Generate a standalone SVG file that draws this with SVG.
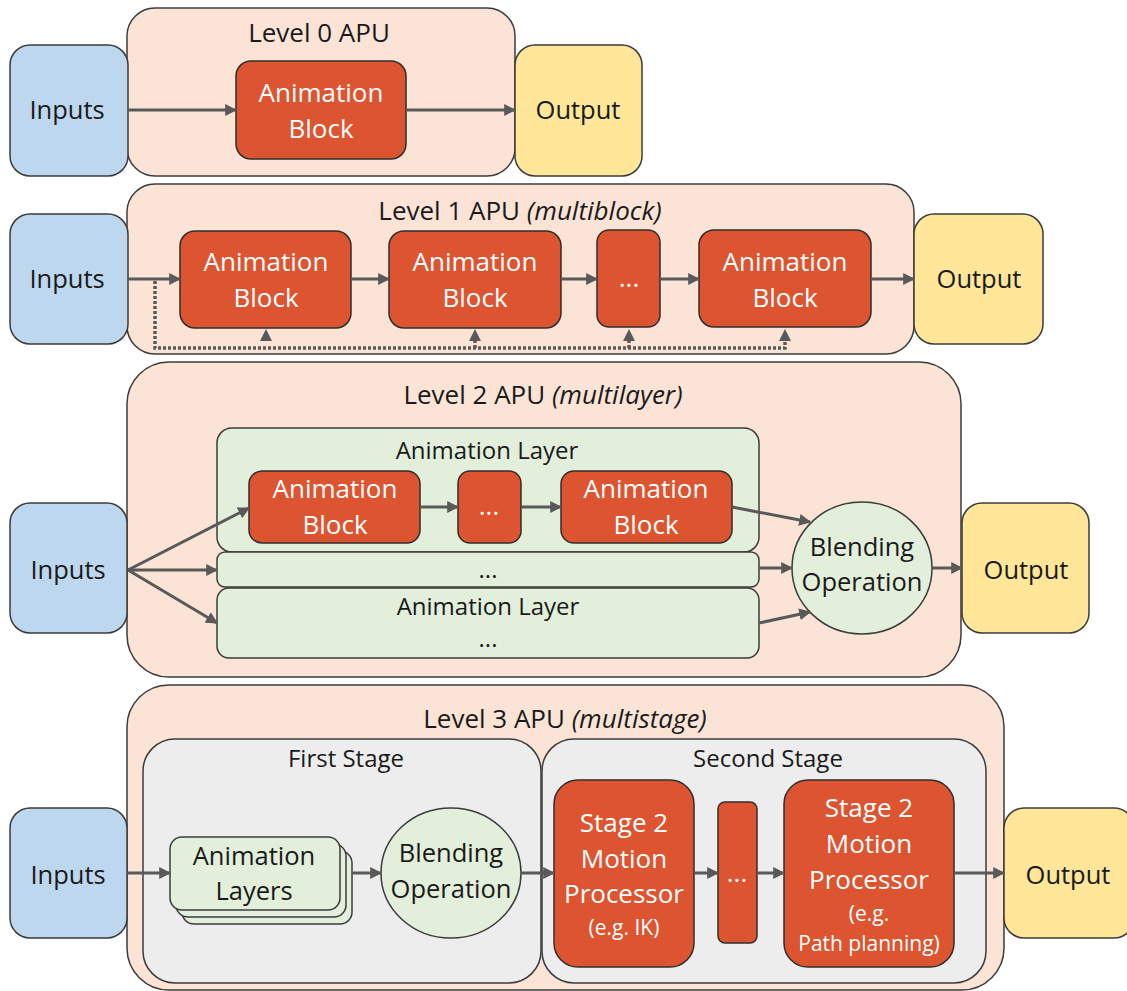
<svg xmlns="http://www.w3.org/2000/svg" width="1127" height="991" viewBox="0 0 1127 991">
<defs>
<style>
text{font-family:"Open Sans","Noto Sans",sans-serif;text-anchor:middle;}
.t{font-size:25.5px;fill:#1a1a1a;}
.w{font-size:26px;fill:#ffffff;}
.ws{font-size:21px;fill:#ffffff;}
.h{font-size:26px;fill:#1a1a1a;}
.s{font-size:24px;fill:#1a1a1a;}
.cont{fill:#FBE4D6;stroke:#3b3b3b;stroke-width:1.5;}
.in{fill:#BDD7EE;stroke:#3b3b3b;stroke-width:1.5;}
.out{fill:#FFE699;stroke:#3b3b3b;stroke-width:1.5;}
.blk{fill:#DD5431;stroke:#2e2e2e;stroke-width:1.5;}
.grn{fill:#E2EFDA;stroke:#3b3b3b;stroke-width:1.5;}
.gry{fill:#EDEDED;stroke:#3b3b3b;stroke-width:1.5;}
.ar{stroke:#595959;stroke-width:3;fill:none;marker-end:url(#ah);}
.dot{stroke:#595959;stroke-width:3.5;fill:none;stroke-dasharray:3 2;}
.up{fill:#595959;}
</style>
<marker id="ah" viewBox="0 0 10 10" refX="9" refY="5" markerWidth="12" markerHeight="12" markerUnits="userSpaceOnUse" orient="auto">
<path d="M0,0 L10,5 L0,10 z" fill="#595959"/>
</marker>
</defs>

<!-- Level 0 -->
<g id="level0">
<rect class="cont" x="127" y="8" width="388" height="168" rx="28"/>
<text class="h" x="319" y="42">Level 0 APU</text>
</g>
<g id="l0-inputs"><rect class="in" x="10" y="45" width="118" height="131" rx="20"/><text class="t" x="67" y="119">Inputs</text></g>
<g id="l0-block"><rect class="blk" x="236" y="61" width="170" height="98" rx="15"/><text class="w" x="321" y="102">Animation</text><text class="w" x="321" y="138">Block</text></g>
<g id="l0-output"><rect class="out" x="515" y="45" width="127" height="131" rx="20"/><text class="t" x="578" y="119">Output</text></g>

<!-- Level 1 -->
<g id="level1">
<rect class="cont" x="127" y="184" width="787" height="170" rx="28"/>
<text class="h" x="520" y="220">Level 1 APU <tspan font-style="italic">(multiblock)</tspan></text>
</g>
<g id="l1-inputs"><rect class="in" x="10" y="214" width="118" height="130" rx="20"/><text class="t" x="67" y="288">Inputs</text></g>
<g id="l1-block1"><rect class="blk" x="180" y="231" width="171" height="97" rx="15"/><text class="w" x="266" y="271">Animation</text><text class="w" x="266" y="307">Block</text></g>
<g id="l1-block2"><rect class="blk" x="389" y="231" width="172" height="97" rx="15"/><text class="w" x="475" y="271">Animation</text><text class="w" x="475" y="307">Block</text></g>
<g id="l1-dots"><rect class="blk" x="597" y="230" width="63" height="97" rx="12"/><text class="w" x="629" y="287">...</text></g>
<g id="l1-block4"><rect class="blk" x="699" y="230" width="172" height="97" rx="15"/><text class="w" x="785" y="271">Animation</text><text class="w" x="785" y="307">Block</text></g>
<g id="l1-output"><rect class="out" x="914" y="214" width="129" height="130" rx="20"/><text class="t" x="979" y="288">Output</text></g>

<!-- Level 2 -->
<g id="level2">
<rect class="cont" x="127" y="362" width="834" height="315" rx="42"/>
<text class="h" x="543" y="404">Level 2 APU <tspan font-style="italic">(multilayer)</tspan></text>
</g>
<g id="l2-inputs"><rect class="in" x="10" y="503" width="117" height="130" rx="20"/><text class="t" x="68" y="579">Inputs</text></g>
<g id="l2-layer1">
<rect class="grn" x="217" y="428" width="542" height="124" rx="15"/>
<text class="s" x="487" y="459">Animation Layer</text>
</g>
<g id="l2-blockA"><rect class="blk" x="249" y="471" width="171" height="72" rx="13"/><text class="w" x="335" y="498">Animation</text><text class="w" x="335" y="534">Block</text></g>
<g id="l2-dots"><rect class="blk" x="458" y="471" width="63" height="72" rx="12"/><text class="w" x="489" y="515">...</text></g>
<g id="l2-blockC"><rect class="blk" x="561" y="471" width="171" height="72" rx="13"/><text class="w" x="646" y="498">Animation</text><text class="w" x="646" y="534">Block</text></g>
<g id="l2-layer2"><rect class="grn" x="217" y="552" width="542" height="35" rx="8"/><text class="s" x="488" y="578">...</text></g>
<g id="l2-layer3"><rect class="grn" x="217" y="588" width="542" height="70" rx="12"/><text class="s" x="488" y="615">Animation Layer</text><text class="s" x="488" y="647">...</text></g>
<g id="l2-blend"><ellipse class="grn" cx="862" cy="568" rx="70" ry="66"/><text class="t" x="862" y="556">Blending</text><text class="t" x="862" y="591">Operation</text></g>
<g id="l2-output"><rect class="out" x="962" y="503" width="127" height="130" rx="20"/><text class="t" x="1026" y="579">Output</text></g>

<!-- Level 3 -->
<g id="level3">
<rect class="cont" x="127" y="685" width="877" height="305" rx="42"/>
<text class="h" x="565" y="728">Level 3 APU <tspan font-style="italic">(multistage)</tspan></text>
</g>
<g id="l3-inputs"><rect class="in" x="10" y="808" width="117" height="130" rx="20"/><text class="t" x="68" y="884">Inputs</text></g>
<g id="l3-stage1"><rect class="gry" x="143" y="739" width="398" height="244" rx="32"/><text class="s" x="346" y="767">First Stage</text></g>
<g id="l3-stage2"><rect class="gry" x="542" y="739" width="444" height="244" rx="32"/><text class="s" x="768" y="767">Second Stage</text></g>
<g id="l3-layers">
<rect class="grn" x="182" y="851" width="170" height="73" rx="12"/>
<rect class="grn" x="176" y="844" width="170" height="73" rx="12"/>
<rect class="grn" x="170" y="837" width="170" height="73" rx="12"/>
<text class="t" x="254" y="865">Animation</text><text class="t" x="254" y="900">Layers</text>
</g>
<g id="l3-blend"><ellipse class="grn" cx="451" cy="873" rx="70" ry="65"/><text class="t" x="451" y="862">Blending</text><text class="t" x="451" y="898">Operation</text></g>
<g id="l3-mp1"><rect class="blk" x="554" y="780" width="140" height="187" rx="24"/>
<text class="w" x="624" y="832">Stage 2</text><text class="w" x="624" y="868">Motion</text><text class="w" x="624" y="903">Processor</text><text class="ws" x="624" y="935">(e.g. IK)</text></g>
<g id="l3-dots"><rect class="blk" x="718" y="802" width="39" height="141" rx="7"/><text class="w" x="737" y="882">...</text></g>
<g id="l3-mp2"><rect class="blk" x="784" y="780" width="170" height="187" rx="24"/>
<text class="w" x="869" y="817">Stage 2</text><text class="w" x="869" y="853">Motion</text><text class="w" x="869" y="889">Processor</text><text class="ws" x="869" y="921">(e.g.</text><text class="ws" x="869" y="951">Path planning)</text></g>
<g id="l3-output"><rect class="out" x="1004" y="808" width="130" height="130" rx="20"/><text class="t" x="1068" y="884">Output</text></g>

<!-- Connectors -->
<g id="connectors">
<line class="ar" x1="128" y1="110" x2="236" y2="110"/>
<line class="ar" x1="406" y1="110" x2="515" y2="110"/>

<line class="ar" x1="128" y1="279" x2="180" y2="279"/>
<line class="ar" x1="351" y1="279" x2="389" y2="279"/>
<line class="ar" x1="561" y1="279" x2="597" y2="279"/>
<line class="ar" x1="660" y1="279" x2="699" y2="279"/>
<line class="ar" x1="871" y1="279" x2="914" y2="279"/>
<path class="dot" d="M155,281 V348 H785 V340"/>
<path class="dot" d="M475,348 V341 M629,348 V341"/>
<path class="up" d="M260,341 L266,329 L272,341 z"/>
<path class="up" d="M469,341 L475,329 L481,341 z"/>
<path class="up" d="M623,341 L629,329 L635,341 z"/>
<path class="up" d="M779,341 L785,329 L791,341 z"/>

<line class="ar" x1="128" y1="570" x2="249" y2="508"/>
<line class="ar" x1="128" y1="570" x2="217" y2="570"/>
<line class="ar" x1="128" y1="570" x2="217" y2="623"/>
<line class="ar" x1="420" y1="507" x2="458" y2="507"/>
<line class="ar" x1="521" y1="507" x2="561" y2="507"/>
<line class="ar" x1="732" y1="507" x2="810" y2="522"/>
<line class="ar" x1="759" y1="568" x2="792" y2="568"/>
<line class="ar" x1="759" y1="623" x2="810" y2="612"/>
<line class="ar" x1="932" y1="568" x2="962" y2="568"/>

<line class="ar" x1="127" y1="873" x2="170" y2="873"/>
<line class="ar" x1="352" y1="873" x2="381" y2="873"/>
<line class="ar" x1="521" y1="873" x2="554" y2="873"/>
<line class="ar" x1="694" y1="873" x2="718" y2="873"/>
<line class="ar" x1="757" y1="873" x2="784" y2="873"/>
<line class="ar" x1="954" y1="873" x2="1004" y2="873"/>
</g>
</svg>
